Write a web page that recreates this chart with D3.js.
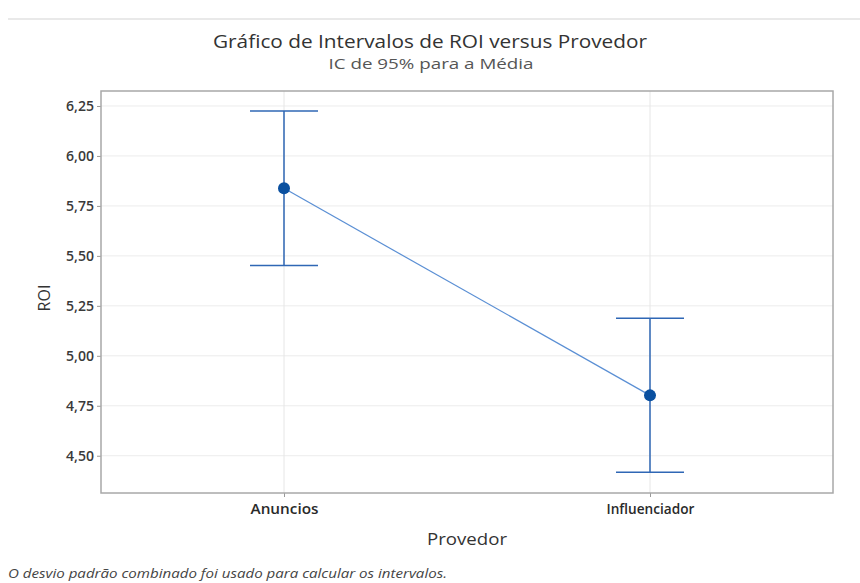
<!DOCTYPE html>
<html><head><meta charset="utf-8">
<script src="https://cdn.jsdelivr.net/npm/d3@7"></script>
<style>body{margin:0;background:#fff}svg{display:block}</style>
</head><body>
<svg id="c" width="860" height="583"></svg>
<script>
const categories = ["Anuncios", "Influenciador"];
const means = [5.838, 4.802];
const lower = [5.452, 4.417];
const upper = [6.225, 5.188];
const yTicks = [4.50, 4.75, 5.00, 5.25, 5.50, 5.75, 6.00, 6.25];

const svg = d3.select("#c");
const font = "'Open Sans', 'Noto Sans', sans-serif";
const L = 101, R = 833, T = 91, B = 493;
const x = d3.scalePoint().domain(categories).range([L, R]).padding(0.5);
const y = d3.scaleLinear().domain([4.3135, 6.325]).range([B, T]);
const fmt = d => d3.format(".2f")(d).replace(".", ",");

svg.append("line").attr("x1", 8).attr("x2", 860).attr("y1", 19).attr("y2", 19)
  .attr("stroke", "#e2e2e2").attr("stroke-width", 1.5);

// gridlines
svg.append("g").selectAll("line").data(yTicks).join("line")
  .attr("x1", L).attr("x2", R).attr("y1", d => y(d)).attr("y2", d => y(d))
  .attr("stroke", "#ececec").attr("stroke-width", 1);
svg.append("g").selectAll("line").data(categories).join("line")
  .attr("x1", d => x(d)).attr("x2", d => x(d)).attr("y1", T).attr("y2", B)
  .attr("stroke", "#e6e6e6").attr("stroke-width", 1);

// axes
const yAxis = svg.append("g").attr("transform", `translate(${L},0)`)
  .call(d3.axisLeft(y).tickValues(yTicks).tickFormat(fmt).tickSize(4).tickPadding(3));
yAxis.select(".domain").remove();
yAxis.selectAll("line").attr("stroke", "#999");
yAxis.selectAll("text").attr("font-family", font).attr("font-size", 13.5)
  .attr("font-weight", 600).attr("fill", "#3a3a3a")
  .attr("textLength", 28).attr("lengthAdjust", "spacingAndGlyphs");

const xAxis = svg.append("g").attr("transform", `translate(0,${B})`)
  .call(d3.axisBottom(x).tickSize(4).tickPadding(7));
xAxis.select(".domain").remove();
xAxis.selectAll("line").attr("stroke", "#999");
xAxis.selectAll("text").attr("font-family", font).attr("font-size", 13.5)
  .attr("font-weight", 600).attr("fill", "#2a2a2a")
  .attr("textLength", (d, i) => [68, 88][i]).attr("lengthAdjust", "spacingAndGlyphs");

// frame
svg.append("rect").attr("x", L).attr("y", T).attr("width", R - L).attr("height", B - T)
  .attr("fill", "none").attr("stroke", "#a8a8a8").attr("stroke-width", 1.5);

// connecting line
svg.append("path")
  .attr("d", d3.line().x((d, i) => x(categories[i])).y(d => y(d))(means))
  .attr("fill", "none").attr("stroke", "#5a8fd4").attr("stroke-width", 1.2);

// error bars
const eb = svg.append("g").selectAll("g").data(categories).join("g");
const blue = "#2f67b5";
eb.append("line").attr("x1", d => x(d)).attr("x2", d => x(d))
  .attr("y1", (d, i) => y(upper[i])).attr("y2", (d, i) => y(lower[i]))
  .attr("stroke", blue).attr("stroke-width", 1.5);
eb.append("line").attr("x1", d => x(d) - 34).attr("x2", d => x(d) + 34)
  .attr("y1", (d, i) => y(upper[i])).attr("y2", (d, i) => y(upper[i]))
  .attr("stroke", blue).attr("stroke-width", 1.5);
eb.append("line").attr("x1", d => x(d) - 34).attr("x2", d => x(d) + 34)
  .attr("y1", (d, i) => y(lower[i])).attr("y2", (d, i) => y(lower[i]))
  .attr("stroke", blue).attr("stroke-width", 1.5);
eb.append("circle").attr("cx", d => x(d)).attr("cy", (d, i) => y(means[i]))
  .attr("r", 6).attr("fill", "#0a50a0");

// titles
svg.append("text").attr("x", 430).attr("y", 48).attr("text-anchor", "middle")
  .attr("font-family", font).attr("font-size", 18).attr("fill", "#333")
  .attr("textLength", 434).attr("lengthAdjust", "spacingAndGlyphs")
  .text("Gráfico de Intervalos de ROI versus Provedor");
svg.append("text").attr("x", 431).attr("y", 69).attr("text-anchor", "middle")
  .attr("font-family", font).attr("font-size", 14.5).attr("fill", "#555")
  .attr("textLength", 205).attr("lengthAdjust", "spacingAndGlyphs")
  .text("IC de 95% para a Média");
svg.append("text").attr("transform", "translate(50,298) rotate(-90)")
  .attr("text-anchor", "middle").attr("font-family", font).attr("font-size", 16)
  .attr("fill", "#333").text("ROI");
svg.append("text").attr("x", 467).attr("y", 545).attr("text-anchor", "middle")
  .attr("font-family", font).attr("font-size", 16).attr("fill", "#333")
  .attr("textLength", 80).attr("lengthAdjust", "spacingAndGlyphs")
  .text("Provedor");
svg.append("text").attr("x", 8).attr("y", 578)
  .attr("font-family", font).attr("font-size", 13).attr("font-style", "italic")
  .attr("fill", "#444").attr("textLength", 439).attr("lengthAdjust", "spacingAndGlyphs")
  .text("O desvio padrão combinado foi usado para calcular os intervalos.");
</script>
</body></html>
